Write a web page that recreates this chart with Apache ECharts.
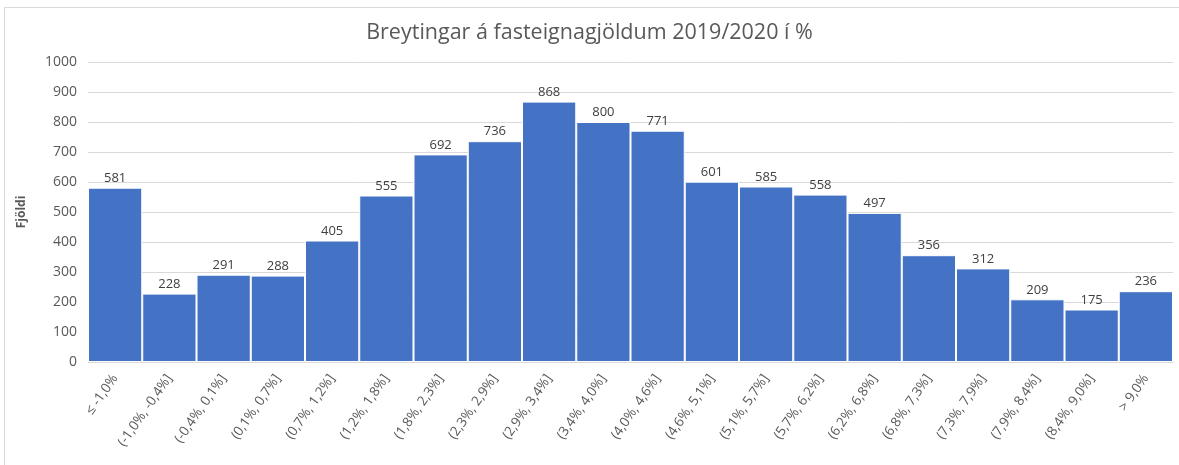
<!DOCTYPE html>
<html><head><meta charset="utf-8">
<script src="https://cdn.jsdelivr.net/npm/echarts@6/dist/echarts.min.js"></script>
<style>html,body{margin:0;padding:0;background:#fff}#c{width:1179px;height:465px}</style>
</head><body><div id="c"></div>
<script>
const title = 'Breytingar á fasteignagjöldum 2019/2020 í %';
const yName = 'Fjöldi';
const categories = ['≤ -1,0%','(-1,0%, -0,4%]','(-0,4%, 0,1%]','(0,1%, 0,7%]','(0,7%, 1,2%]','(1,2%, 1,8%]','(1,8%, 2,3%]','(2,3%, 2,9%]','(2,9%, 3,4%]','(3,4%, 4,0%]','(4,0%, 4,6%]','(4,6%, 5,1%]','(5,1%, 5,7%]','(5,7%, 6,2%]','(6,2%, 6,8%]','(6,8%, 7,3%]','(7,3%, 7,9%]','(7,9%, 8,4%]','(8,4%, 9,0%]','> 9,0%'];
const counts = [581,228,291,288,405,555,692,736,868,800,771,601,585,558,497,356,312,209,175,236];
const font = 'Open Sans, Noto Sans, sans-serif';
const chart = echarts.init(document.getElementById('c'));
chart.setOption({
  animation:false,
  textStyle:{fontFamily:font},
  graphic:[{type:'rect',shape:{x:4.5,y:7.5,width:1200,height:500},style:{fill:'none',stroke:'#d9d9d9',lineWidth:1},silent:true}],
  title:{text:title,left:'center',top:17,textStyle:{fontSize:21.5,fontWeight:'normal',color:'#595959',fontFamily:font}},
  grid:{left:88,right:6,top:62,bottom:103,containLabel:false},
  xAxis:{type:'category',data:categories,
    axisLine:{show:true,lineStyle:{color:'#d9d9d9'}},axisTick:{show:false},
    axisLabel:{rotate:55,interval:0,color:'#595959',fontSize:13.5,margin:14,fontFamily:font}},
  yAxis:{type:'value',min:0,max:1000,interval:100,name:yName,nameLocation:'middle',nameGap:60,
    nameTextStyle:{fontWeight:'bold',color:'#595959',fontSize:12,fontFamily:font},
    axisLine:{show:false},axisTick:{show:false},
    axisLabel:{color:'#595959',fontSize:14,margin:11,fontFamily:font,formatter:v=>String(v)},
    splitLine:{lineStyle:{color:'#d9d9d9',width:1}}},
  series:[{type:'bar',data:counts,barCategoryGap:'0%',
    itemStyle:{color:'#4472C4',borderColor:'#ffffff',borderWidth:1},
    label:{show:true,position:'top',color:'#404040',fontSize:13,distance:3,fontFamily:font}}]
});
</script></body></html>
